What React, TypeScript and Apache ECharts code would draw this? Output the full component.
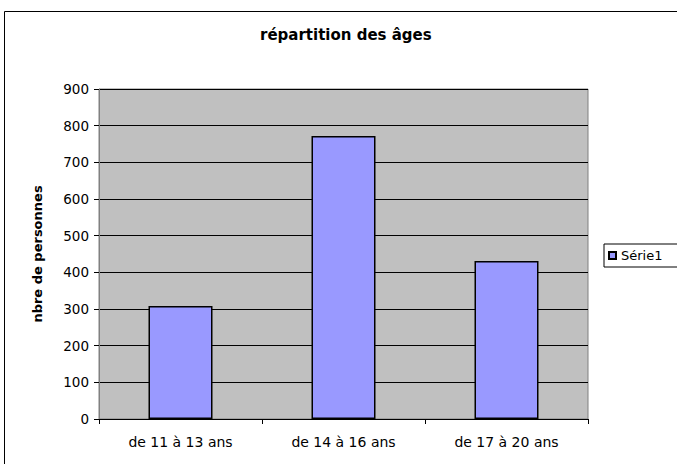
import React, { useEffect, useRef } from "react";
import * as echarts from "echarts";

const categories = ["de 11 à 13 ans", "de 14 à 16 ans", "de 17 à 20 ans"];
const serie1 = [308, 772, 431];
const seriesName = "Série1";
const chartTitle = "répartition des âges";
const yAxisName = "nbre de personnes";

const FONT = '"DejaVu Sans", Arial, sans-serif';

export default function App() {
  const ref = useRef<HTMLDivElement>(null);
  useEffect(() => {
    if (!ref.current) return;
    const chart = echarts.init(ref.current, null, { renderer: "svg" });
    chart.setOption({
      animation: false,
      backgroundColor: "#ffffff",
      title: {
        text: chartTitle,
        left: 255,
        top: 22,
        textStyle: { fontFamily: FONT, fontSize: 15, fontWeight: "bold", color: "#000" },
      },
      legend: {
        left: 604,
        top: 244,
        orient: "vertical",
        data: [seriesName],
        itemWidth: 7,
        itemHeight: 7,
        itemGap: 4,
        padding: [5, 40, 5, 4],
        borderColor: "#000",
        borderWidth: 1,
        backgroundColor: "#fff",
        borderRadius: 0,
        icon: "rect",
        textStyle: { fontFamily: FONT, fontSize: 13, color: "#000" },
      },
      grid: {
        left: 99,
        top: 89,
        width: 489,
        height: 330,
        show: true,
        backgroundColor: "#C0C0C0",
        borderColor: "#808080",
        borderWidth: 1,
      },
      xAxis: {
        type: "category",
        data: categories,
        axisLine: { show: true, lineStyle: { color: "#000", width: 1 } },
        axisTick: { show: true, length: 5, alignWithLabel: false, lineStyle: { color: "#000" } },
        axisLabel: { fontFamily: FONT, fontSize: 14, color: "#000", margin: 16 },
      },
      yAxis: {
        type: "value",
        min: 0,
        max: 900,
        interval: 100,
        name: yAxisName,
        nameLocation: "middle",
        nameRotate: 90,
        nameGap: 55,
        nameTextStyle: { fontFamily: FONT, fontSize: 13, fontWeight: "bold", color: "#000" },
        axisLine: { show: true, lineStyle: { color: "#808080", width: 1 } },
        axisTick: { show: true, length: 5, lineStyle: { color: "#000" } },
        axisLabel: { fontFamily: FONT, fontSize: 13.5, color: "#000", margin: 10 },
        splitLine: { show: true, lineStyle: { color: "#000", width: 1 } },
      },
      series: [
        {
          name: seriesName,
          type: "bar",
          data: serie1,
          barWidth: 64,
          itemStyle: { color: "#9999FF", borderColor: "#000", borderWidth: 1.5 },
        },
      ],
      graphic: [
        {
          type: "rect",
          shape: { x: 4.5, y: 11.5, width: 700, height: 500 },
          style: { fill: "none", stroke: "#000", lineWidth: 1 },
          silent: true,
          z: 100,
        },
      ],
    });
    return () => chart.dispose();
  }, []);
  return (
    <div
      ref={ref}
      style={{ position: "fixed", left: 0, top: 0, width: 677, height: 464 }}
    />
  );
}
